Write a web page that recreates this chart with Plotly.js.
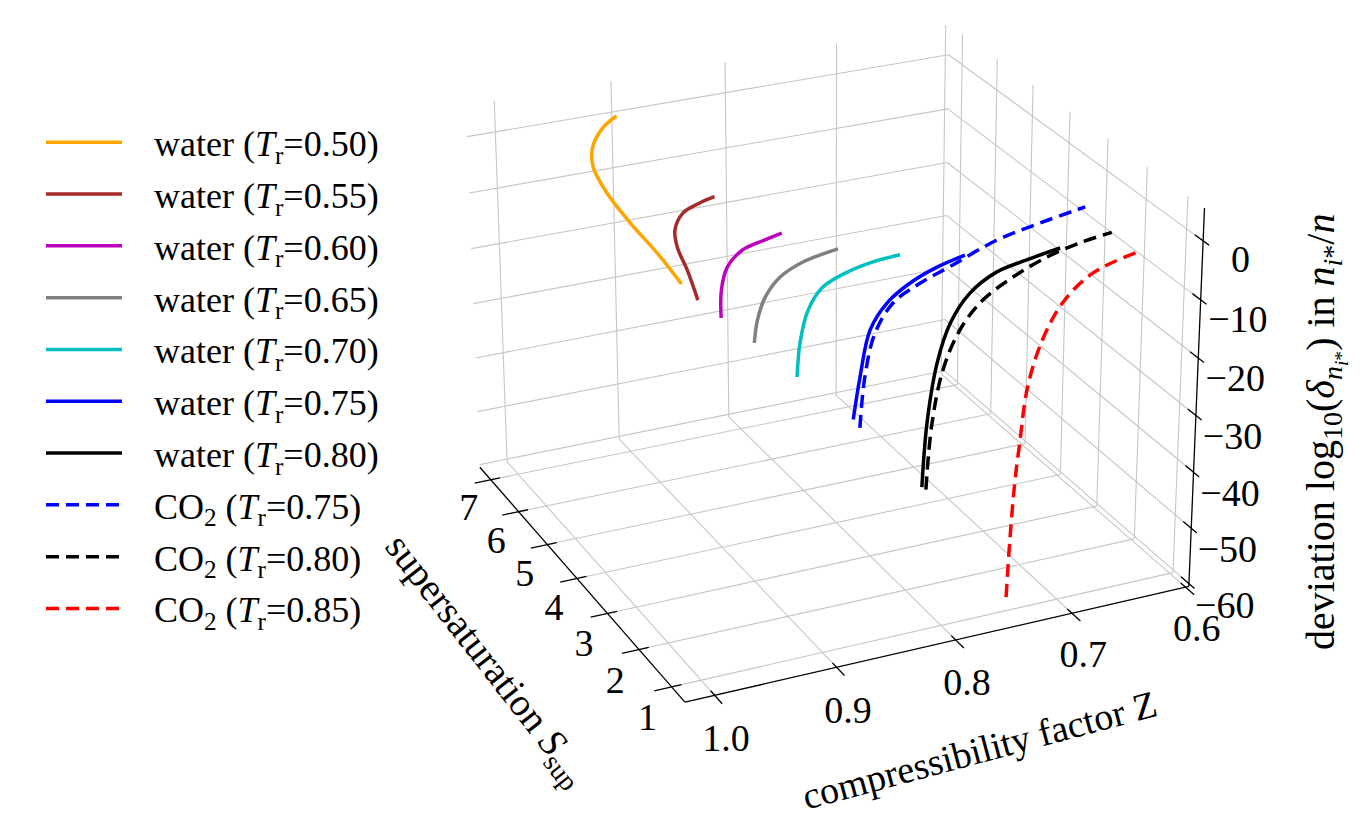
<!DOCTYPE html>
<html>
<head>
<meta charset="utf-8">
<script src="https://cdn.plot.ly/plotly-3.0.1.min.js"></script>
<style>
  html, body { margin: 0; padding: 0; background: #fff; }
  #chart { width: 1366px; height: 814px; }
</style>
</head>
<body>
<div id="chart"></div>
<script>
// curves: supersaturation S, compressibility Z, log10 deviation D
var S_w050 = [1.9, 2.8, 3.75, 4.8, 5.6, 6.2, 6.7, 7.0];
var Z_w050 = [0.987, 0.9825, 0.979, 0.971, 0.962, 0.947, 0.925, 0.906];
var D_w050 = [1.1, 1.4, 1.4, 0.95, 1.2, 1.2, 1.5, 1.4];

var S_w055 = [1.5, 2.25, 2.9, 3.4, 3.8, 4.0, 4.15];
var Z_w055 = [0.985, 0.973, 0.9635, 0.952, 0.9345, 0.915, 0.899];
var D_w055 = [0.5, 1.0, 1.1, 0.95, 1.2, 1.2, 0.9];

var S_w060 = [1.05, 1.55, 2.1, 2.45, 2.65, 2.8];
var Z_w060 = [0.979, 0.965, 0.945, 0.923, 0.9005, 0.881];
var D_w060 = [-0.26, 1.0, 1.2, 1.4, 1.1, 0.85];

var S_w065 = [1.05, 1.1, 1.25, 1.55, 1.85, 2.05];
var Z_w065 = [0.953, 0.949, 0.9385, 0.918, 0.891, 0.8565];
var D_w065 = [-5.4, -2.05, 0.47, 1.39, 1.27, 1.1];

var S_w070 = [1.05, 1.07, 1.12, 1.2, 1.4, 1.52, 1.65];
var Z_w070 = [0.919, 0.916, 0.908, 0.894, 0.8685, 0.8436, 0.8174];
var D_w070 = [-12.45, -7.0, -2.17, 0.61, 1.03, 1.18, 0.68];

var S_w075 = [1.03, 1.05, 1.08, 1.12, 1.18, 1.26, 1.35];
var Z_w075 = [0.874, 0.868, 0.859, 0.844, 0.824, 0.799, 0.773];
var D_w075 = [-21.4, -14.6, -7.2, -3.5, -1.4, -0.07, 0.47];

var S_w080 = [1.02, 1.03, 1.05, 1.08, 1.12, 1.18, 1.25, 1.35];
var Z_w080 = [0.817, 0.813, 0.8045, 0.793, 0.776, 0.752, 0.725, 0.693];
var D_w080 = [-35.4, -24.6, -14.8, -8.7, -4.6, -2.3, -1.7, -1.4];

var S_c075 = [1.03, 1.05, 1.08, 1.12, 1.18, 1.27, 1.5, 1.75, 2.0];
var Z_c075 = [0.8685, 0.864, 0.855, 0.839, 0.8155, 0.786, 0.742, 0.697, 0.650];
var D_c075 = [-23.05, -14.7, -7.9, -3.7, -1.7, -0.3, 1.0, 0.94, 0.66];

var S_c080 = [1.02, 1.03, 1.05, 1.08, 1.12, 1.18, 1.27, 1.4, 1.55];
var Z_c080 = [0.8136, 0.8088, 0.7996, 0.785, 0.7651, 0.7383, 0.7069, 0.6745, 0.6421];
var D_c080 = [-36.0, -24.8, -16.2, -10.2, -6.2, -3.7, -2.0, -1.5, -1.7];

var S_c085 = [1.02, 1.03, 1.05, 1.07, 1.1, 1.15, 1.22, 1.32, 1.45];
var Z_c085 = [0.7436, 0.741, 0.7372, 0.733, 0.7263, 0.7129, 0.6942, 0.6658, 0.6228];
var D_c085 = [-58.2, -48.1, -38.4, -31.7, -22.4, -15.2, -10.0, -6.6, -5.3];

var names = [
  'water (<i>T</i><sub>r</sub>=0.50)', 'water (<i>T</i><sub>r</sub>=0.55)',
  'water (<i>T</i><sub>r</sub>=0.60)', 'water (<i>T</i><sub>r</sub>=0.65)',
  'water (<i>T</i><sub>r</sub>=0.70)', 'water (<i>T</i><sub>r</sub>=0.75)',
  'water (<i>T</i><sub>r</sub>=0.80)', 'CO<sub>2</sub> (<i>T</i><sub>r</sub>=0.75)',
  'CO<sub>2</sub> (<i>T</i><sub>r</sub>=0.80)', 'CO<sub>2</sub> (<i>T</i><sub>r</sub>=0.85)'
];
var colors = ['#ffa500', '#a52a2a', '#bf00bf', '#808080', '#00bfbf',
              '#0000ff', '#000000', '#0000ff', '#000000', '#ff0000'];
var dashes = ['solid', 'solid', 'solid', 'solid', 'solid',
              'solid', 'solid', '13px,7px', '13px,7px', '13px,7px'];

var Ss = [S_w050, S_w055, S_w060, S_w065, S_w070, S_w075, S_w080, S_c075, S_c080, S_c085];
var Zs = [Z_w050, Z_w055, Z_w060, Z_w065, Z_w070, Z_w075, Z_w080, Z_c075, Z_c080, Z_c085];
var Ds = [D_w050, D_w055, D_w060, D_w065, D_w070, D_w075, D_w080, D_c075, D_c080, D_c085];

var zTicks = [1.0, 0.9, 0.8, 0.7, 0.6];
var sTicks = [1, 2, 3, 4, 5, 6, 7];
var dTicks = [-60, -50, -40, -30, -20, -10, 0];

// axis limits of the 3d box (Z runs from 1.0 at the front to 0.6 at the right)
var zLim = [1.024, 0.597], sLim = [0.6, 7.4], dLim = [-60.5, 5.5];

// perspective view of a 4:4:3 box, WebGL-free
var view = { azim: 65, elev: 25, dist: 31, scale: 136, cx: 824.5, cy: 344 };
var half = [2, 2, 1.5];
function project(Z, S, D) {
  var qx = ((Z - zLim[0]) / (zLim[1] - zLim[0]) - 0.5) * 2 * half[0];
  var qy = ((S - sLim[0]) / (sLim[1] - sLim[0]) - 0.5) * 2 * half[1];
  var qz = ((D - dLim[0]) / (dLim[1] - dLim[0]) - 0.5) * 2 * half[2];
  var a = view.azim * Math.PI / 180, e = view.elev * Math.PI / 180;
  var sa = Math.sin(a), ca = Math.cos(a), se = Math.sin(e), ce = Math.cos(e);
  var right = qx * sa - qy * ca;
  var up = qx * se * ca + qy * se * sa + qz * ce;
  var depth = -qx * ce * ca - qy * ce * sa + qz * se;
  var f = view.dist / (view.dist - depth);
  return [view.cx + view.scale * f * right, view.cy - view.scale * f * up];
}

// segments given as pairs of [Z,S,D] points -> one trace with gaps
function segTrace(segs, color, width) {
  var x = [], y = [];
  segs.forEach(function (s) {
    var p = project(s[0][0], s[0][1], s[0][2]);
    var q = project(s[1][0], s[1][1], s[1][2]);
    x.push(p[0], q[0], null);
    y.push(p[1], q[1], null);
  });
  return { type: 'scatter', mode: 'lines', x: x, y: y, showlegend: false,
           hoverinfo: 'skip', line: { color: color, width: width } };
}

var z0 = zLim[0], z1 = zLim[1], s0 = sLim[0], s1 = sLim[1], d0 = dLim[0], d1 = dLim[1];
var grid = [];
zTicks.forEach(function (z) {
  grid.push([[z, s0, d0], [z, s1, d0]]);   // floor
  grid.push([[z, s1, d0], [z, s1, d1]]);   // back-left wall
});
sTicks.forEach(function (s) {
  grid.push([[z0, s, d0], [z1, s, d0]]);   // floor
  grid.push([[z1, s, d0], [z1, s, d1]]);   // back-right wall
});
dTicks.forEach(function (d) {
  grid.push([[z0, s1, d], [z1, s1, d]]);
  grid.push([[z1, s0, d], [z1, s1, d]]);
});

var axes = [
  [[z0, s0, d0], [z1, s0, d0]],
  [[z0, s0, d0], [z0, s1, d0]],
  [[z1, s0, d0], [z1, s0, d1]]
];
zTicks.forEach(function (z) { axes.push([[z, s0 + 0.12, d0], [z, s0 - 0.22, d0]]); });
sTicks.forEach(function (s) { axes.push([[z0 - 0.008, s, d0], [z0 + 0.014, s, d0]]); });
dTicks.forEach(function (d) { axes.push([[z1, s0 + 0.2, d], [z1, s0 - 0.14, d]]); });

var traces = [segTrace(grid, '#c6c6c6', 1.1), segTrace(axes, '#000', 1.3)];

for (var i = 0; i < names.length; i++) {
  var px = [], py = [];
  for (var j = 0; j < Ss[i].length; j++) {
    var p = project(Zs[i][j], Ss[i][j], Ds[i][j]);
    px.push(p[0]); py.push(p[1]);
  }
  traces.push({
    type: 'scatter', mode: 'lines',
    name: '\u00a0\u00a0\u00a0' + names[i], legendgroup: 'g' + i,
    x: px, y: py, hoverinfo: 'skip',
    line: { color: colors[i], width: 3.5, dash: dashes[i], shape: 'spline', smoothing: 1 }
  });
}

// tick labels
var serif = 'Liberation Serif, Times New Roman, serif';
function labelTrace(pts, texts) {
  var x = [], y = [];
  pts.forEach(function (p) { var q = project(p[0], p[1], p[2]); x.push(q[0]); y.push(q[1]); });
  return { type: 'scatter', mode: 'text', x: x, y: y, text: texts, showlegend: false,
           hoverinfo: 'skip', cliponaxis: false, textposition: 'middle center',
           textfont: { family: serif, size: 38, color: '#000' } };
}
traces.push(labelTrace(zTicks.map(function (z) { return [z, 0.28, -66.5]; }),
                       zTicks.map(function (z) { return z.toFixed(1); })));
traces.push(labelTrace(sTicks.map(function (s) { return [1.044, s, -65.5]; }),
                       sTicks.map(String)));
traces.push(labelTrace(dTicks.map(function (d) { return [0.592, -0.15, d]; }),
                       dTicks.map(function (d) { return d < 0 ? '\u2212' + (-d) : String(d); })));

var layout = {
  width: 1366, height: 814,
  margin: { l: 0, r: 0, t: 0, b: 0 },
  paper_bgcolor: '#fff', plot_bgcolor: '#fff',
  hovermode: false,
  showlegend: true,
  xaxis: { range: [0, 1366], visible: false, fixedrange: true },
  yaxis: { range: [814, 0], visible: false, fixedrange: true },
  legend: {
    x: 0.030, y: 0.862, xanchor: 'left', yanchor: 'top',
    font: { family: serif, size: 36, color: '#000' },
    traceorder: 'grouped', tracegroupgap: 2, itemwidth: 76,
    bgcolor: 'rgba(0,0,0,0)'
  },
  annotations: [
    { text: 'compressibility factor Z', xref: 'paper', yref: 'paper',
      x: 979 / 1366, y: 1 - 750 / 814, xanchor: 'center', yanchor: 'middle',
      showarrow: false, textangle: -15,
      font: { family: serif, size: 38, color: '#000' } },
    { text: 'supersaturation <i>S</i><sub>sup</sub>', xref: 'paper', yref: 'paper',
      x: 486 / 1366, y: 1 - 660 / 814, xanchor: 'center', yanchor: 'middle',
      showarrow: false, textangle: 52,
      font: { family: serif, size: 39, color: '#000' } },
    { text: 'deviation log<sub>10</sub>(<i>\u03b4</i><sub><i>n</i><sub><i>i</i>*</sub></sub>) in <i>n</i><sub><i>i</i>*</sub>/<i>n</i>',
      xref: 'paper', yref: 'paper',
      x: 1325 / 1366, y: 1 - 432 / 814, xanchor: 'center', yanchor: 'middle',
      showarrow: false, textangle: -90,
      font: { family: serif, size: 40, color: '#000' } }
  ]
};

Plotly.newPlot('chart', traces, layout, { displayModeBar: false, staticPlot: true });
</script>
</body>
</html>
